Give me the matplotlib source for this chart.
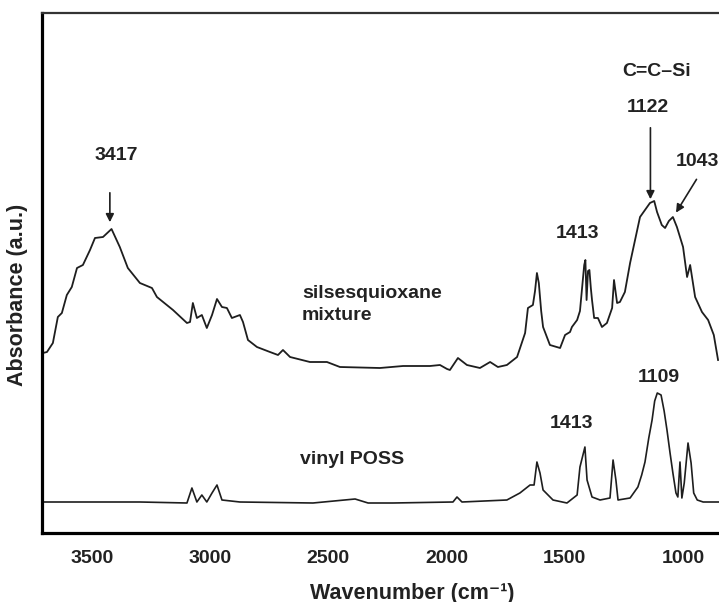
import matplotlib
matplotlib.use("Agg")
import matplotlib.pyplot as plt

plt.rcParams['font.family'] = ['Liberation Sans', 'DejaVu Sans']
plt.rcParams['font.weight'] = 'bold'

# Silsesquioxane mixture spectrum (wavenumber, absorbance a.u.)
mix_wn = [3707, 3690, 3665, 3644, 3627, 3606, 3585, 3563, 3538, 3508, 3487, 3453,
          3417, 3382, 3348, 3297, 3246, 3225, 3157, 3098, 3085, 3073, 3056, 3035,
          3014, 2992, 2971, 2950, 2929, 2908, 2874, 2861, 2840, 2802, 2747, 2713,
          2692, 2662, 2578, 2506, 2451, 2282, 2184, 2070, 2028, 1998, 1986, 1952,
          1914, 1859, 1816, 1783, 1745, 1702, 1668, 1656, 1635, 1626, 1618, 1610,
          1600, 1592, 1563, 1520, 1499, 1478, 1470, 1448, 1436, 1427, 1418, 1413,
          1408, 1402, 1396, 1390, 1385, 1376, 1360, 1343, 1322, 1300, 1292, 1279,
          1267, 1246, 1224, 1203, 1182, 1161, 1140, 1122, 1110, 1090, 1076, 1060,
          1043, 1026, 1000, 983, 970, 949, 920, 894, 870, 852]
mix_abs = [180, 181, 190, 216, 220, 238, 246, 265, 268, 283, 295, 296,
           304, 286, 265, 250, 245, 236, 223, 210, 211, 230, 215, 218,
           205, 218, 234, 226, 225, 215, 218, 211, 193, 186, 181, 178,
           183, 176, 171, 171, 166, 165, 167, 167, 168, 164, 163, 175,
           168, 165, 171, 166, 168, 176, 200, 225, 228, 242, 260, 250,
           222, 206, 188, 185, 198, 201, 206, 213, 222, 245, 268, 273,
           233, 262, 263, 245, 233, 215, 215, 206, 210, 225, 253, 230,
           231, 241, 270, 293, 316, 323, 330, 332, 321, 308, 305, 312,
           316, 306, 286, 256, 268, 236, 221, 213, 198, 173]

# Vinyl POSS spectrum
poss_wn = [3707, 3297, 3098, 3077, 3056, 3035, 3014, 2992, 2971, 2950, 2874,
           2565, 2387, 2332, 2227, 1973, 1956, 1935, 1745, 1690, 1647, 1630,
           1618, 1605, 1592, 1550, 1491, 1448, 1436, 1415, 1406, 1385, 1351,
           1309, 1296, 1284, 1275, 1224, 1191, 1175, 1161, 1145, 1131, 1120,
           1109, 1093, 1080, 1068, 1055, 1043, 1030, 1022, 1013, 1005, 995,
           979, 966, 955, 940, 915, 848]
poss_abs = [31, 31, 30, 45, 31, 38, 31, 40, 48, 33, 31,
            30, 34, 30, 30, 31, 36, 31, 33, 40, 48, 48,
            71, 60, 43, 33, 30, 38, 66, 86, 53, 36, 33,
            35, 73, 53, 33, 35, 46, 58, 71, 95, 113, 132,
            140, 138, 122, 103, 80, 60, 40, 36, 71, 35, 50,
            90, 70, 40, 33, 31, 31]

x_ticks = [3500, 3000, 2500, 2000, 1500, 1000]

fig = plt.figure(figsize=(7.19, 6.02), dpi=100)
ax = fig.add_axes([42 / 719, 1 - 533 / 602, 1 - 42 / 719, 520 / 602])

ax.plot(mix_wn, mix_abs, color='#1e1e1e', lw=1.3)
ax.plot(poss_wn, poss_abs, color='#1e1e1e', lw=1.2)

ax.set_xlim(3711, 848)
ax.set_ylim(0, 520)
ax.set_xticks(x_ticks)
ax.set_xticklabels([str(t) for t in x_ticks])
ax.set_yticks([])
ax.tick_params(axis='x', length=0, pad=12, labelsize=14)
for lab in ax.get_xticklabels():
    lab.set_fontweight('bold')
    lab.set_color('#222222')

ax.spines['left'].set_linewidth(2.3)
ax.spines['bottom'].set_linewidth(2.3)
ax.spines['top'].set_linewidth(1.6)
ax.spines['top'].set_color('#333333')
ax.spines['right'].set_visible(False)

fs = 14
tc = '#222222'
arrow = dict(arrowstyle='-|>', color='#1e1e1e', lw=1.2, mutation_scale=12)

ax.text(3398, 378, '3417', ha='center', va='center', fontsize=fs, color=tc)
ax.annotate('', xy=(3424, 308), xytext=(3424, 343), arrowprops=arrow)

ax.text(1110, 461, 'C=C–Si', ha='center', va='center', fontsize=fs, color=tc)
ax.text(1148, 425, '1122', ha='center', va='center', fontsize=fs, color=tc)
ax.annotate('', xy=(1138, 331), xytext=(1138, 408), arrowprops=arrow)

ax.text(941, 371, '1043', ha='center', va='center', fontsize=fs, color=tc)
ax.annotate('', xy=(1036, 318), xytext=(937, 356), arrowprops=arrow)

ax.text(1448, 300, '1413', ha='center', va='center', fontsize=fs, color=tc)
ax.text(2612, 240, 'silsesquioxane', ha='left', va='center', fontsize=fs, color=tc)
ax.text(2612, 218, 'mixture', ha='left', va='center', fontsize=fs, color=tc)

ax.text(2620, 73, 'vinyl POSS', ha='left', va='center', fontsize=fs, color=tc)
ax.text(1470, 110, '1413', ha='center', va='center', fontsize=fs, color=tc)
ax.text(1101, 156, '1109', ha='center', va='center', fontsize=fs, color=tc)

fig.text(412 / 719, 1 - 593 / 602, 'Wavenumber (cm⁻¹)', ha='center', va='center',
         fontsize=15.5, color=tc, fontweight='bold')
fig.text(18 / 719, 1 - 295 / 602, 'Absorbance (a.u.)', ha='center', va='center',
         rotation=90, fontsize=15.5, color=tc, fontweight='bold')

fig.savefig('out.png', dpi=100)
